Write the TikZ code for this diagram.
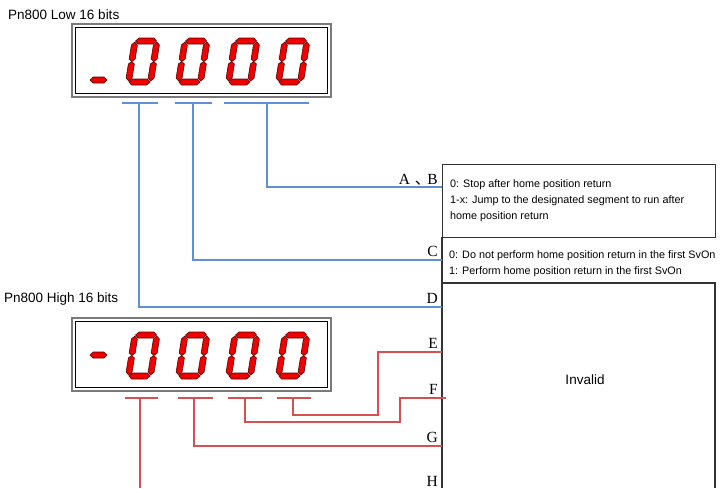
\documentclass[tikz,border=0pt]{standalone}
\usepackage{fontspec}
\setmainfont{Liberation Sans}
\newfontfamily\labelfont{Liberation Serif}
\newfontfamily\cjk{Noto Sans CJK SC}
\usetikzlibrary{positioning}
\usepackage{xcolor}
\definecolor{wireblue}{HTML}{5E90D4}
\definecolor{wirered}{HTML}{D65050}
\definecolor{segred}{HTML}{F00000}
\definecolor{segdark}{HTML}{5A0000}
\definecolor{framegrey}{HTML}{7A7A7A}

\begin{document}
\begin{tikzpicture}[
        x=1pt, y=-1pt,
        title/.style={font=\fontsize{13.5}{14}\selectfont, inner sep=0pt},
        bitlabel/.style={font=\labelfont\fontsize{15.5}{15.5}\selectfont, inner sep=0pt},
        desc/.style={font=\fontsize{10.8}{16}\selectfont, align=left, inner sep=0pt},
        box/.style={draw=black!80, line width=1.2pt},
        blueline/.style={draw=wireblue, line width=1.1pt},
        redline/.style={draw=wirered, line width=1.1pt},
        seg/.style={fill=segred, draw=segdark, line width=0.6pt},
        frameout/.style={draw=framegrey, line width=1.6pt},
        framein/.style={draw=black, line width=0.9pt},
        zero/.pic={
          \begin{scope}[xslant=0.16]
            \path[seg] (3.5,-3) -- (6.5,-6) -- (21.5,-6) -- (24.5,-3) -- (21.5,0) -- (6.5,0) -- cycle;
            \path[seg] (3.5,-44) -- (6.5,-47) -- (21.5,-47) -- (24.5,-44) -- (21.5,-41) -- (6.5,-41) -- cycle;
            \foreach \dx in {0,22} {
              \path[seg] (3+\dx,-4) -- (6+\dx,-7) -- (6+\dx,-21) -- (3+\dx,-23.5) -- (\dx,-21) -- (\dx,-7) -- cycle;
              \path[seg] (3+\dx,-43) -- (6+\dx,-40) -- (6+\dx,-26) -- (3+\dx,-23.5) -- (\dx,-26) -- (\dx,-40) -- cycle;
            }
          \end{scope}},
        bar/.pic={
          \path[seg] (0,-3) -- (3,-6) -- (14,-6) -- (17,-3) -- (14,0) -- (3,0) -- cycle;},
      ]
        \useasboundingbox (0,0) rectangle (722,488);

        % titles
        \node[title, anchor=west] (lowtitle) at (8,15) {Pn800 Low 16 bits};
        \node[title, anchor=west] (hightitle) at (4,299) {Pn800 High 16 bits};

        % low 16 bits display
        \draw[frameout] (72,24) rectangle (331,97);
        \draw[framein] (75.5,27.5) rectangle (327.5,93.5);
        \pic at (90,83) {bar};
        \foreach \x in {125,175,225,275}
          \pic at (\x,85) {zero};

        % high 16 bits display
        \draw[frameout] (72,318) rectangle (331,391);
        \draw[framein] (75.5,321.5) rectangle (327.5,387.5);
        \pic at (90,358) {bar};
        \foreach \x in {125,175,225,275}
          \pic at (\x,379) {zero};

        % description boxes
        \node[box, anchor=north west, minimum width=273pt, minimum height=73pt] (abbox) at (442,164) {};
        \node[desc, anchor=west] (abtext) at (450,201) {0: Stop after home position return\\
          1-x: Jump to the designated segment to run after\\home position return};
        \node[desc, anchor=west] (ctext) at (449,264) {0: Do not perform home position return in the first SvOn\\
          1: Perform home position return in the first SvOn};
        \draw[box] (442,237) -- (442,488);
        \draw[box] (442,283) -- (715,283) -- (715,488);
        \node[title] (invalid) at (585,380) {Invalid};

        % bit labels
        \node[bitlabel, anchor=base east] (labAB) at (438,184) {A\hspace{5pt}{\cjk 、}\hspace{-3pt}B};
        \node[bitlabel, anchor=base east] (labC) at (438,256) {C};
        \node[bitlabel, anchor=base east] (labD) at (438,303) {D};
        \node[bitlabel, anchor=base east] (labE) at (438,348) {E};
        \node[bitlabel, anchor=base east] (labF) at (438,394) {F};
        \node[bitlabel, anchor=base east] (labG) at (438,442) {G};
        \node[bitlabel, anchor=base east] (labH) at (438,486) {H};

        % wire ends on the boxes
        \coordinate (inAB) at (442,187);
        \coordinate (inC) at (442,260);
        \coordinate (inD) at (442,307);
        \coordinate (inE) at (442,352);
        \coordinate (inF) at (446,398);
        \coordinate (inG) at (442,446);
        \coordinate (outH) at (140,488);

        % low bits: ticks and wires
        \draw[blueline] (122,103) -- (158,103);
        \draw[blueline] (175,103) -- (212,103);
        \draw[blueline] (224,103) -- (309,103);
        \coordinate (tickD) at (139,103);
        \coordinate (tickC) at (193,103);
        \coordinate (tickAB) at (267,103);
        \draw[blueline] (tickAB) |- (inAB);
        \draw[blueline] (tickC) |- (inC);
        \draw[blueline] (tickD) |- (inD);

        % high bits: ticks and wires
        \draw[redline] (125,398) -- (158,398);
        \draw[redline] (178,398) -- (213,398);
        \draw[redline] (228,398) -- (262,398);
        \draw[redline] (277,398) -- (311,398);
        \coordinate (tickH) at (140,398);
        \coordinate (tickG) at (194,398);
        \coordinate (tickF) at (245,398);
        \coordinate (tickE) at (293,398);
        \draw[redline] (tickE) |- (378,415) |- (inE);
        \draw[redline] (tickF) |- (400,422) |- (inF);
        \draw[redline] (tickG) |- (inG);
        \draw[redline] (tickH) -- (outH);
      \end{tikzpicture}
\end{document}
